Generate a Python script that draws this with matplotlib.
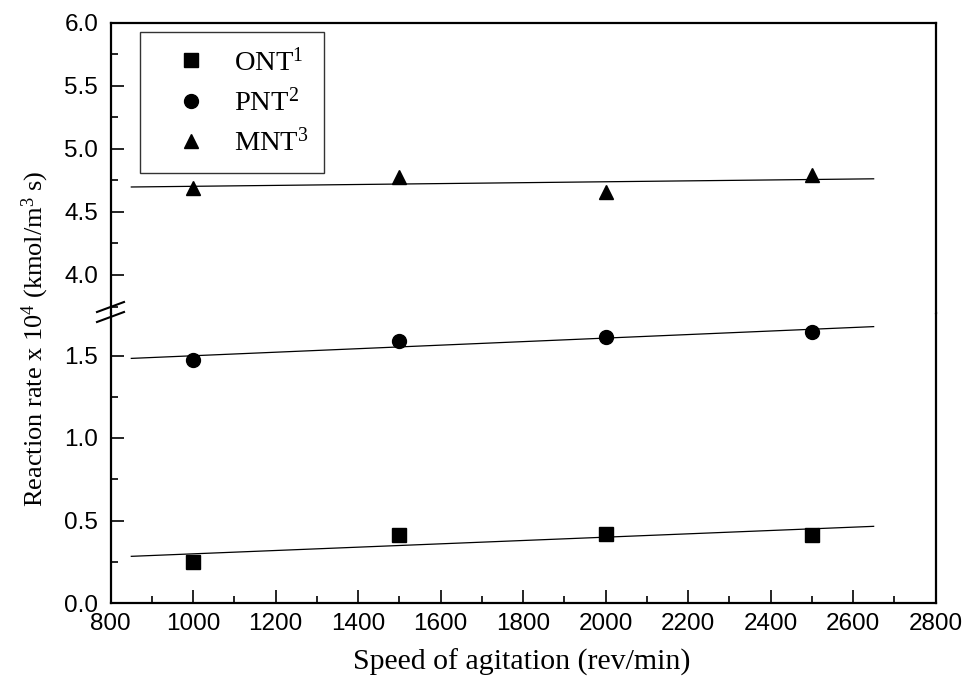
import matplotlib
matplotlib.use('Agg')
import matplotlib.pyplot as plt
import numpy as np
from matplotlib.lines import Line2D
from matplotlib.ticker import FixedLocator

plt.rcParams['font.family'] = ['Liberation Sans', 'DejaVu Sans']
plt.rcParams['mathtext.fontset'] = 'custom'
plt.rcParams['mathtext.rm'] = 'Liberation Serif'
plt.rcParams['mathtext.it'] = 'Liberation Serif:italic'

SERIF = ['Liberation Serif', 'DejaVu Serif']

# data
speed = [1000, 1500, 2000, 2500]
ont = [0.25, 0.41, 0.42, 0.415]
pnt = [1.47, 1.59, 1.615, 1.64]
mnt = [4.69, 4.78, 4.66, 4.79]
fit_range = [850, 2650]

W, H = 967, 685
fig = plt.figure(figsize=(W / 100, H / 100), dpi=100)

left_px, right_px = 110.7, 935.5
top_px, break_px, bottom_px = 22.7, 313, 603

def fx(px):
    return px / W

def fy(px):
    return 1 - px / H

ax_lo = fig.add_axes([fx(left_px), fy(bottom_px), fx(right_px - left_px), (bottom_px - break_px) / H])
ax_hi = fig.add_axes([fx(left_px), fy(break_px), fx(right_px - left_px), (break_px - top_px) / H])

lo_scale = 165.0
hi_scale = 126.1
ax_lo.set_ylim(0, (bottom_px - break_px) / lo_scale)
ax_hi.set_ylim(4.0 - (break_px - 275) / hi_scale, 6.0)

for ax in (ax_lo, ax_hi):
    ax.set_xlim(800, 2800)
    for s in ax.spines.values():
        s.set_linewidth(1.6)
    ax.tick_params(which='major', direction='in', length=9.5, width=1.2, labelsize=17.5,
                   right=False, top=False)
    ax.tick_params(which='minor', direction='in', length=5, width=1.2, right=False, top=False)
    ax.tick_params(axis='y', pad=9)

ax_lo.spines['top'].set_visible(False)
ax_hi.spines['bottom'].set_visible(False)

ax_lo.set_xticks(np.arange(800, 2801, 200))
ax_lo.xaxis.set_minor_locator(FixedLocator(np.arange(900, 2800, 200)))
ax_lo.set_yticks([0.0, 0.5, 1.0, 1.5])
ax_lo.set_yticklabels(['0.0', '0.5', '1.0', '1.5'])
ax_lo.yaxis.set_minor_locator(FixedLocator([0.25, 0.75, 1.25]))
ax_lo.tick_params(axis='x', pad=7)

ax_hi.set_xticks([])
ax_hi.xaxis.set_minor_locator(FixedLocator([]))
ax_hi.set_yticks([4.0, 4.5, 5.0, 5.5, 6.0])
ax_hi.set_yticklabels(['4.0', '4.5', '5.0', '5.5', '6.0'])
ax_hi.yaxis.set_minor_locator(FixedLocator([3.75, 4.25, 4.75, 5.25, 5.75]))

xf = np.array(fit_range)
series = [(ax_lo, ont, 's', 9.5), (ax_lo, pnt, 'o', 10), (ax_hi, mnt, '^', 10.5)]
for ax, vals, mk, ms in series:
    ax.plot(speed, vals, linestyle='none', marker=mk, markersize=ms, color='black')
    k, b = np.polyfit(speed, vals, 1)
    ax.plot(xf, k * xf + b, color='black', linewidth=0.9)

handles = [Line2D([], [], linestyle='none', marker='s', markersize=9.5, color='black'),
           Line2D([], [], linestyle='none', marker='o', markersize=10, color='black'),
           Line2D([], [], linestyle='none', marker='^', markersize=10.5, color='black')]
labels = ['ONT$^{1}$', 'PNT$^{2}$', 'MNT$^{3}$']
leg = ax_hi.legend(handles, labels, loc='upper left',
                   bbox_to_anchor=(fx(140), fy(32)), bbox_transform=fig.transFigure,
                   prop={'family': SERIF, 'size': 20.5}, frameon=True, fancybox=False,
                   edgecolor='black', borderpad=0.55, labelspacing=0.42,
                   handlelength=2.45, handletextpad=0.3, borderaxespad=0)
leg.get_frame().set_linewidth(1.0)

# axis break marks on the left spine
for dy in (0, 10):
    fig.add_artist(Line2D([fx(97), fx(124)], [fy(312 + dy), fy(302 + dy)],
                          color='black', linewidth=1.5, transform=fig.transFigure))

fig.text(fx(522), fy(662), 'Speed of agitation (rev/min)',
         ha='center', va='center', fontsize=21.5, family=SERIF)
fig.text(fx(35), fy(339), r'Reaction rate x 10$^{4}$ (kmol/m$^{3}$ s)',
         ha='center', va='center', rotation=90, fontsize=19, family=SERIF)

fig.savefig('out.png', dpi=100)
